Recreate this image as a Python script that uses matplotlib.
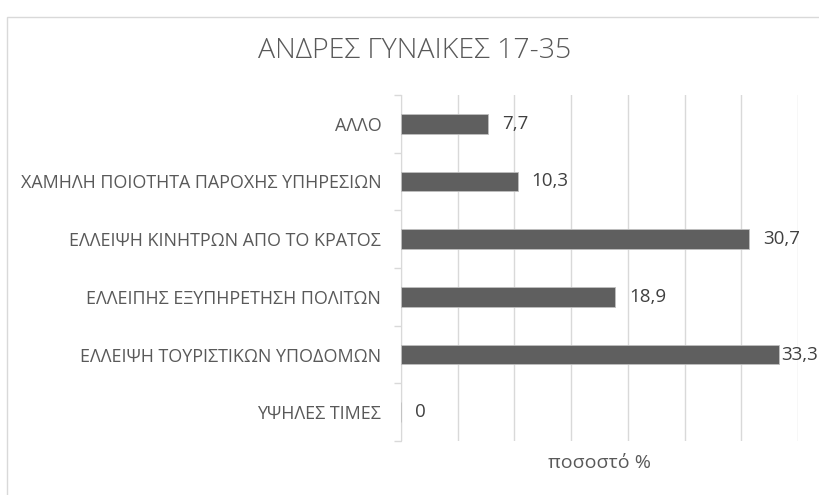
import matplotlib
matplotlib.use("Agg")
import matplotlib.pyplot as plt
from matplotlib.patches import Rectangle

categories = ["ΥΨΗΛΕΣ ΤΙΜΕΣ", "ΕΛΛΕΙΨΗ ΤΟΥΡΙΣΤΙΚΩΝ ΥΠΟΔΟΜΩΝ", "ΕΛΛΕΙΠΗΣ ΕΞΥΠΗΡΕΤΗΣΗ ΠΟΛΙΤΩΝ",
              "ΕΛΛΕΙΨΗ ΚΙΝΗΤΡΩΝ ΑΠΟ ΤΟ ΚΡΑΤΟΣ", "ΧΑΜΗΛΗ ΠΟΙΟΤΗΤΑ ΠΑΡΟΧΗΣ ΥΠΗΡΕΣΙΩΝ", "ΑΛΛΟ"]
values = [0, 33.3, 18.9, 30.7, 10.3, 7.7]
value_labels = ["0", "33,3", "18,9", "30,7", "10,3", "7,7"]
title = "ΑΝΔΡΕΣ ΓΥΝΑΙΚΕΣ 17-35"
xlabel = "ποσοστό %"

plt.rcParams['font.family'] = ['Open Sans', 'DejaVu Sans']

W, H = 819, 495
fig = plt.figure(figsize=(W/100, H/100), dpi=100)
fig.patch.set_facecolor("white")
fig.patches.append(Rectangle((7/W, -0.1), 1.1, 1 - 17/H + 0.1, transform=fig.transFigure,
                             fill=False, edgecolor="#d9d9d9", linewidth=1.0))

ax = fig.add_axes([400.7/W, 1 - 441/H, (798.3 - 400.7)/W, (441 - 95)/H])
y = list(range(len(categories)))
ax.barh(y, values, height=0.34, color="#5f5f5f", edgecolor="#bfbfbf", linewidth=0.6, zorder=3)
ax.set_xlim(0, 35)
ax.set_ylim(-0.5, len(categories) - 0.5)
ax.set_xticks([0, 5, 10, 15, 20, 25, 30, 35])
ax.set_xticklabels([])
ax.tick_params(axis="x", length=0)
ax.grid(axis="x", color="#d9d9d9", linewidth=1.0, zorder=0)
ax.set_yticks(y)
ax.set_yticklabels(categories, fontsize=12.9, color="#595959")
ax.tick_params(axis="y", which="major", length=0, pad=14)
ax.set_yticks([i - 0.5 for i in range(len(categories) + 1)], minor=True)
ax.tick_params(axis="y", which="minor", length=5, color="#d9d9d9", width=1.0)
for s in ["top", "right", "bottom"]:
    ax.spines[s].set_visible(False)
ax.spines["left"].set_color("#d9d9d9")
ax.set_facecolor("none")

texts = []
for yi, v, lab in zip(y, values, value_labels):
    t = ax.annotate(lab, (v, yi), xytext=(10, 0), textcoords="offset points",
                    ha="left", va="center", fontsize=13.5, color="#404040")
    texts.append(t)

fig.canvas.draw()
r = fig.canvas.get_renderer()
for t in texts:
    bb = t.get_window_extent(r)
    if bb.x1 > W - 1:
        ox, oy = t.xyann
        t.xyann = (ox - (bb.x1 - (W - 1)) * 72 / 100, oy)

fig.text(415/W, 1 - 51/H, title, ha="center", va="center", fontsize=20.5,
         color="#595959", fontweight="light")
ax.set_xlabel(xlabel, fontsize=14, color="#595959", labelpad=6)

fig.savefig("out.png", dpi=100)
